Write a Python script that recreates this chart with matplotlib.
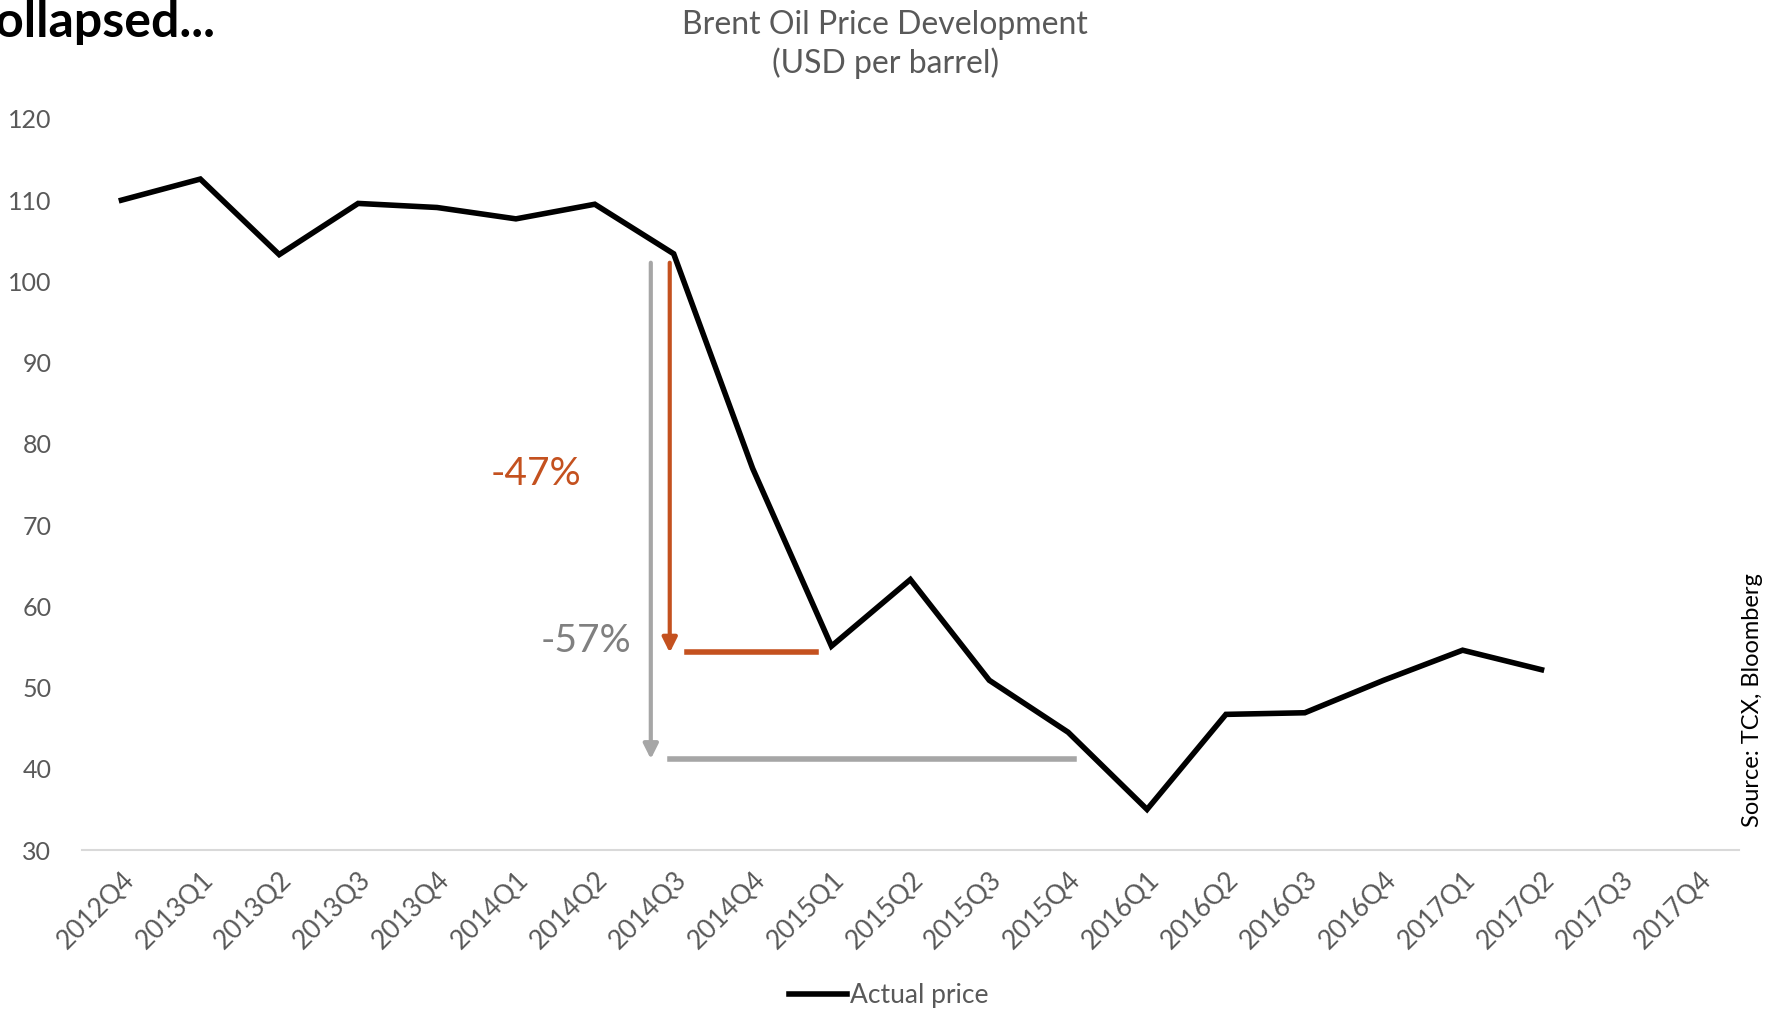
import numpy as np
import matplotlib.pyplot as plt
from matplotlib.lines import Line2D

plt.rcParams['font.family'] = ['Lato', 'DejaVu Sans']

# Quarterly Brent prices (USD per barrel)
quarters = ['2012Q4', '2013Q1', '2013Q2', '2013Q3', '2013Q4',
            '2014Q1', '2014Q2', '2014Q3', '2014Q4',
            '2015Q1', '2015Q2', '2015Q3', '2015Q4',
            '2016Q1', '2016Q2', '2016Q3', '2016Q4',
            '2017Q1', '2017Q2', '2017Q3', '2017Q4']
price = [110.0, 112.6, 103.3, 109.6, 109.1,
         107.7, 109.5, 103.4, 77.0,
         55.1, 63.3, 50.9, 44.5,
         35.0, 46.7, 46.9, 50.9,
         54.6, 52.2, np.nan, np.nan]

peak_level = 102.3
drop_47_level = 54.3
drop_57_level = 41.2

grey_txt = '#595959'
orange = '#C4511F'
grey_arrow = '#A6A6A6'

fig = plt.figure(figsize=(17.67, 10.14), dpi=100)
ax = fig.add_axes([0.0464, 0.1617, 0.9376, 0.721])

x = np.arange(len(quarters))
ax.plot(x, price, color='black', linewidth=4, solid_joinstyle='miter')

# drop annotations
ax.annotate('', xy=(6.71, drop_57_level), xytext=(6.71, peak_level),
            arrowprops=dict(arrowstyle='-|>', color=grey_arrow, lw=3,
                            mutation_scale=22, shrinkA=0, shrinkB=0))
ax.plot([6.95, 12.07], [drop_57_level, drop_57_level], color=grey_arrow, lw=4)
ax.annotate('', xy=(6.95, drop_47_level), xytext=(6.95, peak_level),
            arrowprops=dict(arrowstyle='-|>', color=orange, lw=3,
                            mutation_scale=22, shrinkA=0, shrinkB=0))
ax.plot([7.17, 8.81], [drop_47_level + 0.1, drop_47_level + 0.1], color=orange, lw=4)
ax.text(5.25, 76.3, '-47%', color=orange, fontsize=28, ha='center', va='center')
ax.text(6.47, 55.7, '-57%', color='#808080', fontsize=28, ha='right', va='center')

ax.set_xlim(-0.5, len(quarters) - 0.5)
ax.set_ylim(30, 120)
ax.set_xticks(x)
ax.set_xticklabels(quarters, rotation=45, ha='right', rotation_mode='anchor',
                   color=grey_txt, fontsize=19)
ax.set_yticks(np.arange(30, 121, 10))
ax.tick_params(axis='y', length=0, labelcolor=grey_txt, labelsize=18, pad=22)
ax.tick_params(axis='x', length=0, pad=12)
for s in ['top', 'right', 'left']:
    ax.spines[s].set_visible(False)
ax.spines['bottom'].set_color('#D9D9D9')
ax.spines['bottom'].set_linewidth(1.5)

fig.text(0.501, 0.99, 'Brent Oil Price Development\n(USD per barrel)',
         ha='center', va='top', color=grey_txt, fontsize=23, linespacing=1.3)
fig.text(0.122, 0.978, 'collapsed...', ha='right', va='center',
         fontsize=36, fontweight='bold', color='black')
fig.text(0.992, 0.31, 'Source: TCX, Bloomberg', rotation=90, ha='center',
         va='center', fontsize=17, color='black')

handles = [Line2D([0], [0], color='black', lw=4, label='Actual price')]
fig.legend(handles=handles, loc='center', bbox_to_anchor=(0.503, 0.018),
           frameon=False, fontsize=19, handlelength=2.2, handletextpad=0.1,
           labelcolor=grey_txt)

fig.savefig('out.png', dpi=100)
